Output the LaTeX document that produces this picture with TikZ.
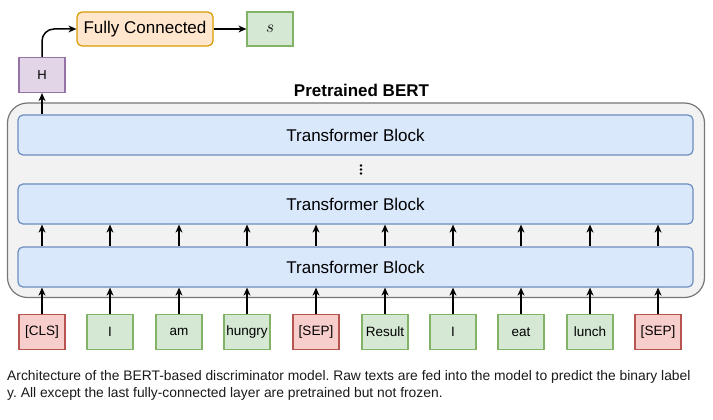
\documentclass[tikz,border=0pt]{standalone}
\usepackage{fontspec}
\setmainfont{Liberation Sans}
\usetikzlibrary{arrows.meta}
\definecolor{bluefill}{HTML}{DAE8FC}\definecolor{bluedraw}{HTML}{6C8EBF}
\definecolor{greenfill}{HTML}{D5E8D4}\definecolor{greendraw}{HTML}{82B366}
\definecolor{redfill}{HTML}{F8CECC}\definecolor{reddraw}{HTML}{B85450}
\definecolor{orangefill}{HTML}{FFE6CC}\definecolor{orangedraw}{HTML}{D79B00}
\definecolor{purplefill}{HTML}{E1D5E7}\definecolor{purpledraw}{HTML}{9673A6}
\definecolor{grayfill}{HTML}{F2F2F2}\definecolor{graydraw}{HTML}{777777}
\definecolor{captext}{HTML}{1A1A1A}
\frenchspacing
\begin{document}
\begin{tikzpicture}[x=1pt,y=-1pt,
  box/.style={draw, line width=1.2pt, inner sep=0pt, minimum width=46pt, minimum height=35pt},
  tokg/.style={box, fill=greenfill, draw=greendraw, font=\fontsize{13.5}{15}\selectfont},
  tokr/.style={box, fill=redfill, draw=reddraw, font=\fontsize{13.5}{15}\selectfont},
  tblock/.style={draw=bluedraw, fill=bluefill, line width=1.2pt, rounded corners=5pt, inner sep=0pt,
     minimum width=675pt, minimum height=40pt, font=\fontsize{17}{19}\selectfont},
  arr/.style={-{Stealth[length=8pt,width=7pt,inset=2.5pt]}, line width=1.5pt, black},
  captxt/.style={anchor=base west, inner sep=0pt, text=captext, font=\frenchspacing\fontsize{13.85}{16}\selectfont}
]
\useasboundingbox (0,0) rectangle (713,420);
% container
\node[draw=graydraw, fill=grayfill, line width=1.2pt, rounded corners=20pt, inner sep=0pt,
  minimum width=697pt, minimum height=194.5pt] (bert) at (356,200.25) {};
\node[font=\bfseries\fontsize{17}{19}\selectfont] (title) at (361.5,90) {Pretrained BERT};
% blocks
\node[tblock] (top) at (355.5,135) {Transformer Block};
\node[tblock] (mid) at (355.5,204) {Transformer Block};
\node[tblock] (bot) at (355.5,267) {Transformer Block};
% dots
\fill (361,165.5) circle (1.3pt);
\fill (361,169.5) circle (1.3pt);
\fill (361,173.5) circle (1.3pt);
% tokens
\node[tokr] (t1) at (42,332) {[CLS]};
\node[tokg] (t2) at (110,332) {I};
\node[tokg] (t3) at (179,332) {am};
\node[tokg] (t4) at (247,332) {hungry};
\node[tokr] (t5) at (316,332) {[SEP]};
\node[tokg] (t6) at (385,332) {Result};
\node[tokg] (t7) at (453,332) {I};
\node[tokg] (t8) at (521,332) {eat};
\node[tokg] (t9) at (590,332) {lunch};
\node[tokr] (t10) at (658,332) {[SEP]};
\foreach \i in {1,...,10}{
  \draw[arr] (t\i.north) -- (t\i.north |- bot.south);
  \draw[arr] (t\i.north |- bot.north) -- (t\i.north |- mid.south);
}
% output
\node[box, fill=purplefill, draw=purpledraw, font=\fontsize{13}{15}\selectfont] (H) at (42,75) {H};
\node[box, fill=orangefill, draw=orangedraw, rounded corners=5pt, minimum width=136pt, minimum height=34pt,
  font=\fontsize{17}{19}\selectfont] (fc) at (145,29) {Fully Connected};
\node[box, fill=greenfill, draw=greendraw, minimum height=34pt, font=\fontsize{18}{20}\selectfont] (s) at (270,29) {$s$};
\draw[arr] (H.south |- top.north) -- (H.south);
\draw[arr, rounded corners=12pt] (H.north) |- (fc.west);
\draw[arr] (fc.east) -- (s.west);
% caption
\node[captxt] (cap1) at (7,380) {Architecture of the BERT-based discriminator model. Raw texts are fed into the model to predict the binary label};
\node[captxt] (cap2) at (7,397) {y. All except the last fully-connected layer are pretrained but not frozen.};
\end{tikzpicture}
\end{document}
